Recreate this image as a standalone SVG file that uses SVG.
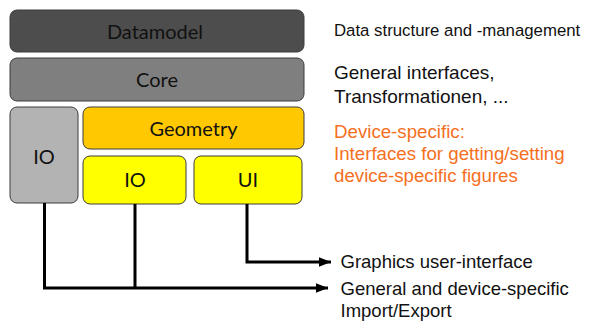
<svg xmlns="http://www.w3.org/2000/svg" width="592" height="324" viewBox="0 0 592 324">
<defs>
<style>
.box{stroke:#3c3c3c;stroke-width:1}
.bt{font-family:Lato,"Open Sans",sans-serif;font-size:20px;fill:#111;text-anchor:middle}
.rt{font-family:"Liberation Sans",Arial,sans-serif;fill:#111}
.or{fill:#f5701e}
.ln{stroke:#000;stroke-width:3;fill:none}
</style>
<marker id="ah" viewBox="0 0 10 10" refX="10" refY="5" markerWidth="4" markerHeight="3.2" orient="auto" markerUnits="strokeWidth" preserveAspectRatio="none">
<path d="M0,0 L10,5 L0,10 Z" fill="#000"/>
</marker>
</defs>
<rect width="592" height="324" fill="#fff"/>
<g id="datamodel">
<rect class="box" x="10" y="10" width="294" height="42" rx="7" fill="#4d4d4d"/>
<text class="bt" x="155" y="38.5">Datamodel</text>
</g>
<g id="core">
<rect class="box" x="10" y="58" width="294" height="43" rx="7" fill="#7f7f7f"/>
<text class="bt" x="157" y="87">Core</text>
</g>
<g id="io-general">
<rect class="box" x="10" y="107" width="68" height="96" rx="7" fill="#b3b3b3"/>
<text class="bt" x="44" y="164">IO</text>
</g>
<g id="geometry">
<rect class="box" x="83" y="107" width="221" height="42" rx="7" fill="#ffc800"/>
<text class="bt" x="193.5" y="136">Geometry</text>
</g>
<g id="io-device">
<rect class="box" x="83" y="156" width="103" height="48" rx="7" fill="#ffff00"/>
<text class="bt" x="135" y="187">IO</text>
</g>
<g id="ui">
<rect class="box" x="194" y="156" width="108" height="48" rx="7" fill="#ffff00"/>
<text class="bt" x="248" y="187">UI</text>
</g>
<g id="connectors">
<polyline class="ln" points="44.5,203 44.5,288 328,288" marker-end="url(#ah)"/>
<line class="ln" x1="135" y1="204" x2="135" y2="288"/>
<polyline class="ln" points="247,204 247,262 331,262" marker-end="url(#ah)"/>
</g>
<g id="labels">
<text class="rt" x="334" y="35.5" font-size="16.8">Data structure and -management</text>
<text class="rt" x="334" y="79" font-size="19">General interfaces,</text>
<text class="rt" x="334" y="102.5" font-size="19">Transformationen, ...</text>
<text class="rt or" x="334" y="137.5" font-size="18.7">Device-specific:</text>
<text class="rt or" x="334" y="160" font-size="18.7">Interfaces for getting/setting</text>
<text class="rt or" x="334" y="181.5" font-size="18.7">device-specific figures</text>
<text class="rt" x="340.5" y="268" font-size="18.5">Graphics user-interface</text>
<text class="rt" x="340.5" y="295" font-size="18.5">General and device-specific</text>
<text class="rt" x="340.5" y="317" font-size="18.5">Import/Export</text>
</g>
</svg>
